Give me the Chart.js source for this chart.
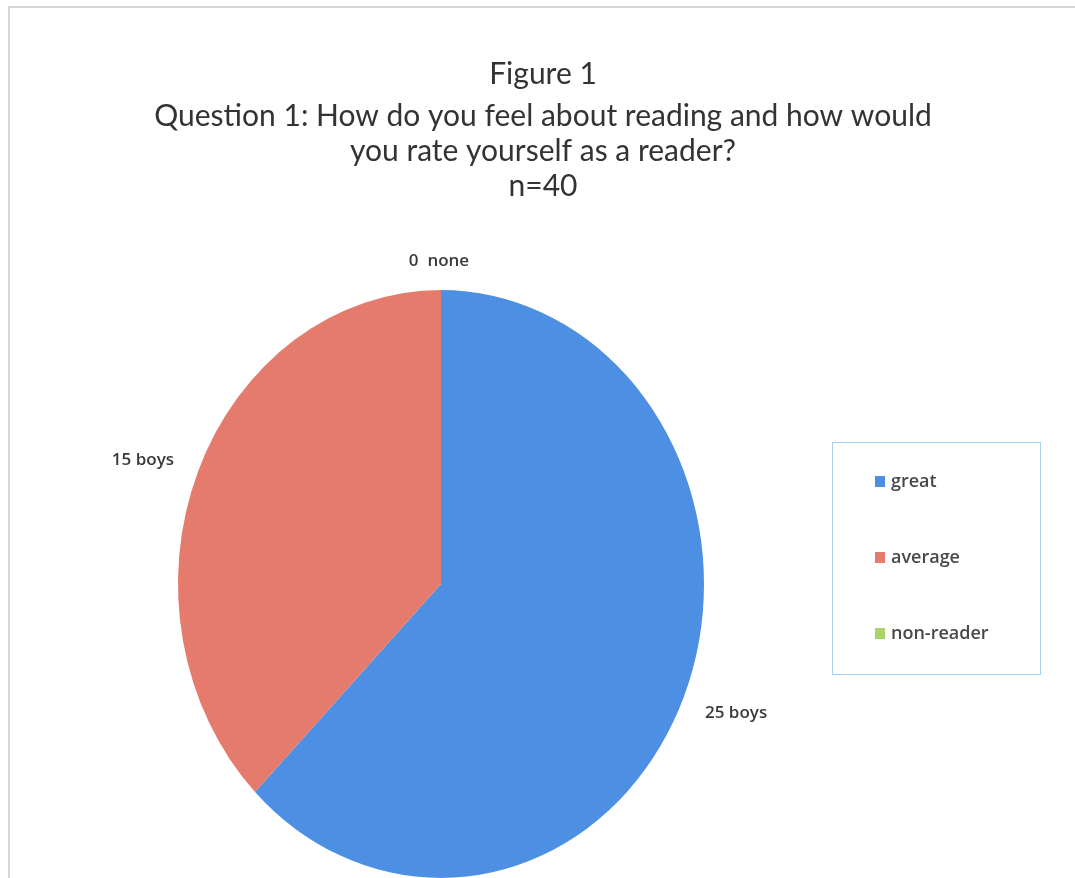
<!DOCTYPE html>
<html>
<head>
<meta charset="utf-8">
<script src="https://cdn.jsdelivr.net/npm/chart.js@4.4.0/dist/chart.umd.min.js"></script>
<style>
  html, body { margin: 0; padding: 0; background: #fff; overflow: hidden; }
  #wrap { position: relative; width: 1075px; height: 878px; }
</style>
</head>
<body>
<div id="wrap"><canvas id="pieChart"></canvas></div>
<script>
// Data
const categories = ["great", "average", "non-reader"];
const counts = [25, 15, 0];
const sliceLabels = ["25 boys", "15 boys", "0  none"];
const titleLines = [
  "Figure 1",
  "Question 1: How do you feel about reading and how would",
  "you rate yourself as a reader?",
  "n=40"
];

const colors = ["#4d8fe3", "#e57b6c", "#a9d46a"];
const FONT = "Lato, 'Open Sans', sans-serif";
const LABEL_FONT = "'Open Sans', Lato, sans-serif";

// stretch the pie vertically (the original is a slightly tall ellipse)
const Y_STRETCH = 294 / 263;

const framePlugin = {
  id: "frame",
  beforeDraw(chart) {
    const ctx = chart.ctx;
    ctx.save();
    ctx.strokeStyle = "#d6d6d6";
    ctx.lineWidth = 2;
    ctx.beginPath();
    ctx.moveTo(9, 900);
    ctx.lineTo(9, 7);
    ctx.lineTo(1075, 7);
    ctx.stroke();

    // title lines
    ctx.fillStyle = "#333333";
    ctx.textAlign = "center";
    ctx.textBaseline = "middle";
    ctx.font = "30px " + FONT;
    const ys = [74, 116, 151, 186];
    titleLines.forEach((t, i) => ctx.fillText(t, 543, ys[i]));
    ctx.restore();
  }
};

const stretchPlugin = {
  id: "stretch",
  beforeDatasetsDraw(chart) {
    const arc = chart.getDatasetMeta(0).data[0];
    const ctx = chart.ctx;
    ctx.save();
    ctx.translate(arc.x, arc.y);
    ctx.scale(1, Y_STRETCH);
    ctx.translate(-arc.x, -arc.y);
  },
  afterDatasetsDraw(chart) {
    chart.ctx.restore();
  }
};

const labelPlugin = {
  id: "sliceLabels",
  afterDraw(chart) {
    const ctx = chart.ctx;
    const meta = chart.getDatasetMeta(0);
    ctx.save();
    ctx.fillStyle = "#3a3a3a";
    ctx.font = "600 17px " + LABEL_FONT;
    ctx.textBaseline = "middle";
    meta.data.forEach((arc, i) => {
      const mid = (arc.startAngle + arc.endAngle) / 2;
      const r = arc.outerRadius + 26;
      let x = arc.x + Math.cos(mid) * r;
      let y = arc.y + Math.sin(mid) * r * Y_STRETCH;
      const c = Math.cos(mid);
      ctx.textAlign = c > 0.2 ? "left" : (c < -0.2 ? "right" : "center");
      if (Math.abs(c) < 0.2) x -= 2;
      if (c > 0.2) { x -= 3; y += 6; }
      ctx.fillText(sliceLabels[i], x, y);
    });
    ctx.restore();
  }
};

const legendPlugin = {
  id: "boxLegend",
  afterDraw(chart) {
    const ctx = chart.ctx;
    ctx.save();
    ctx.strokeStyle = "#a8d0ef";
    ctx.lineWidth = 1;
    ctx.strokeRect(832.5, 442.5, 208, 232);
    ctx.font = "600 18px " + LABEL_FONT;
    ctx.textBaseline = "middle";
    ctx.textAlign = "left";
    categories.forEach((c, i) => {
      const y = 482 + i * 76;
      ctx.fillStyle = colors[i];
      ctx.fillRect(875, y - 6, 10, 11);
      ctx.fillStyle = "#484848";
      ctx.fillText(c, 891, y);
    });
    ctx.restore();
  }
};

new Chart(document.getElementById("pieChart"), {
  type: "pie",
  data: {
    labels: categories,
    datasets: [{
      data: counts,
      backgroundColor: colors,
      borderWidth: 0
    }]
  },
  options: {
    responsive: true,
    maintainAspectRatio: false,
    animation: false,
    layout: { padding: { left: 178, right: 371, top: 321, bottom: 31 } },
    plugins: {
      legend: { display: false },
      tooltip: { enabled: false },
      title: { display: false }
    }
  },
  plugins: [framePlugin, stretchPlugin, labelPlugin, legendPlugin]
});
</script>
</body>
</html>
